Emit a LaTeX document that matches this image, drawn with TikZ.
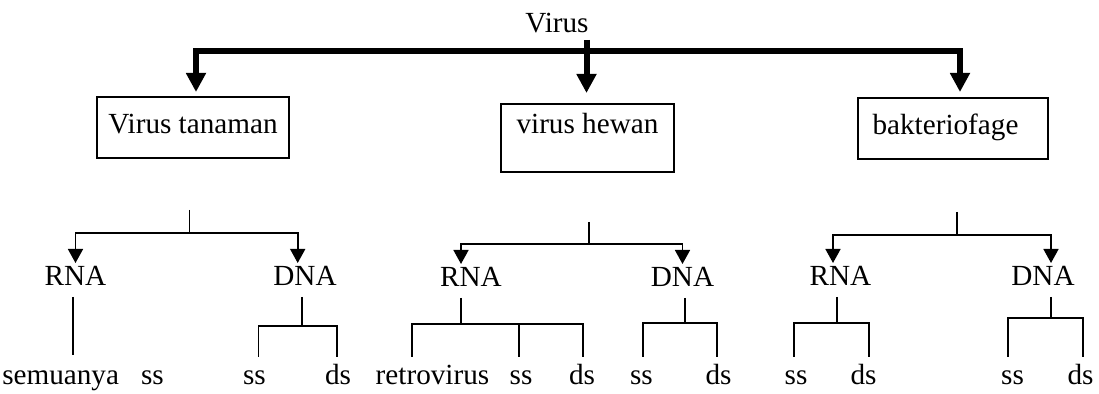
\documentclass[tikz,border=0pt]{standalone}
\usepackage{fontspec}
\setmainfont{Liberation Serif}
\usetikzlibrary{arrows.meta}

\begin{document}
\begin{tikzpicture}[
    x=0.5pt, y=-0.5pt,
    font=\fontsize{14.6pt}{17pt}\selectfont,
    % Styles
    group_box/.style={
        rectangle, draw=black, line width=1pt, inner sep=0pt, outer sep=0pt, anchor=base, minimum width=#1
    },
    type_label/.style={
        inner sep=0pt, outer sep=0pt, anchor=base, text height=9pt, text depth=0pt
    },
    thick_arrow/.style={line width=3pt, -{Triangle[length=9.5pt,width=9.5pt]}},
    thin_line/.style={line width=0.8pt},
    thin_arrow/.style={thin_line, -{Triangle[length=7pt,width=7.5pt]}, shorten >=2.5pt},
    stub_line/.style={thin_line, shorten <=5.5pt},
    leg_line/.style={thin_line, shorten <=5pt, shorten >=5pt}
]
\useasboundingbox (0,0) rectangle (1099,394);

% 1. ROOT
\node[anchor=base, inner sep=0pt] (virus) at (557,33) {Virus};

% 2. Host groups
\node[group_box=96pt, text height=18.5pt, text depth=12pt] (tanaman) at (193,134) {Virus tanaman};
\node[group_box=86.5pt, text height=15pt, text depth=19pt] (hewan) at (587.5,134) {virus hewan};
\node[group_box=95pt, text height=18.5pt, text depth=12pt] (bakterio) at (953,135) {bakteriofage\hspace{7.5pt}\mbox{}};

% 3. Nucleic acid types
\node[type_label] (rna1) at (75.5,286) {RNA};
\node[type_label] (dna1) at (305,286) {DNA};
\node[type_label] (rna2) at (471,287) {RNA};
\node[type_label] (dna2) at (682.5,287) {DNA};
\node[type_label] (rna3) at (840.5,286) {RNA};
\node[type_label] (dna3) at (1043,286) {DNA};

% 4. Strands
\node[type_label] (semua) at (83,385) {semuanya\hspace{11pt}ss};
\node[type_label] (ss1) at (254.5,385) {ss};
\node[type_label] (ds1) at (338,385) {ds};
\node[type_label] (retro) at (432.5,385) {retrovirus};
\node[type_label] (ss2) at (521,385) {ss};
\node[type_label] (ds2) at (582,385) {ds};
\node[type_label] (ss3) at (641.5,385) {ss};
\node[type_label] (ds3) at (718.5,385) {ds};
\node[type_label] (ss4) at (796,385) {ss};
\node[type_label] (ds4) at (863.5,385) {ds};
\node[type_label] (ss5) at (1012.5,385) {ss};
\node[type_label] (ds5) at (1080.5,385) {ds};

% Fork points
\coordinate (hub) at (586.5,51.5);
\coordinate (top1) at (189.3,210);
\coordinate (fork1) at (189.3,233);
\coordinate (top2) at (589,222);
\coordinate (fork2) at (589,244);
\coordinate (top3) at (957,212);
\coordinate (fork3) at (957,235);
\coordinate (dfork1) at (301.7,326);
\coordinate (rfork2) at (461,324);
\coordinate (dfork2) at (685,323);
\coordinate (rfork3) at (837,323);
\coordinate (dfork3) at (1051,318);

% --- Connections ---
\draw[thick_arrow, shorten >=5.5pt] ([xshift=14.75pt,yshift=-3.5pt]virus.base) -- (hub |- hewan.north);
\draw[thick_arrow, shorten >=2.5pt] (hub) -| ([xshift=1.5pt]tanaman.north);
\draw[thick_arrow, shorten >=3pt] (hub) -| ([xshift=3.5pt]bakterio.north);

% Plant viruses
\draw[thin_line] (top1) -- (fork1);
\draw[thin_arrow] (fork1) -| (rna1.north);
\draw[thin_arrow] (fork1) -| ([xshift=-3.65pt]dna1.north);
\draw[stub_line, shorten >=6pt] ([xshift=-1.4pt]rna1.south) -- ([xshift=-1.4pt]rna1.south |- semua.north);
\draw[stub_line] (dfork1 |- dna1.south) -- (dfork1);
\draw[leg_line] ([xshift=1.9pt]ss1.north) |- (dfork1) -| ([xshift=-0.65pt]ds1.north);

% Animal viruses
\draw[thin_line] (top2) -- (fork2);
\draw[thin_arrow] (fork2) -| ([xshift=-5pt]rna2.north);
\draw[thin_arrow] (fork2) -| (dna2.north);
\draw[stub_line] (rfork2 |- rna2.south) -- (rfork2);
\draw[leg_line] ([xshift=-10.25pt]retro.north) |- (rfork2) -| ([xshift=0.5pt]ds2.north);
\draw[leg_line, shorten <=0pt] ([xshift=-1pt]ss2.north |- rfork2) -- ([xshift=-1pt]ss2.north);
\draw[stub_line] (dfork2 |- dna2.south) -- (dfork2);
\draw[leg_line] ([xshift=0.75pt]ss3.north) |- (dfork2) -| ([xshift=-0.75pt]ds3.north);

% Bacteriophages
\draw[thin_line] (top3) -- (fork3);
\draw[thin_arrow] (fork3) -| ([xshift=-3.75pt]rna3.north);
\draw[thin_arrow] (fork3) -| ([xshift=4pt]dna3.north);
\draw[stub_line] (rfork3 |- rna3.south) -- (rfork3);
\draw[leg_line] ([xshift=-1pt]ss4.north) |- (rfork3) -| ([xshift=2.75pt]ds4.north);
\draw[stub_line] (dfork3 |- dna3.south) -- (dfork3);
\draw[leg_line] ([xshift=-2.25pt]ss5.north) |- (dfork3) -| ([xshift=1.25pt]ds5.north);

\end{tikzpicture}
\end{document}
